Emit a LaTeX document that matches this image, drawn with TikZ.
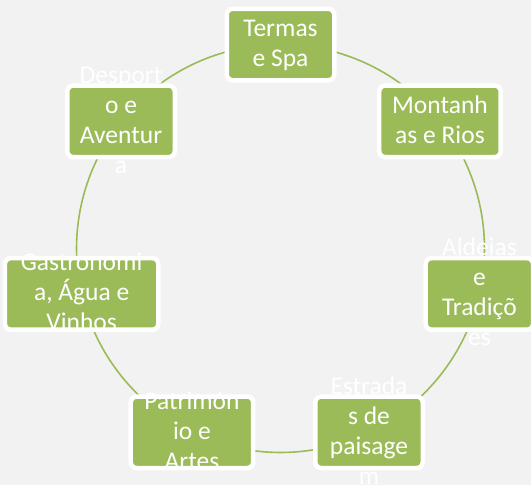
\documentclass[tikz,border=0pt]{standalone}
\usepackage{fontspec}
\setmainfont{Carlito}
\definecolor{bgc}{HTML}{F2F2F2}
\definecolor{leaf}{HTML}{9BBB59}
\newcommand\lstrut{\rule[-8pt]{0pt}{30pt}}
\tikzset{
  ring/.style={draw=leaf, line width=1.6pt},
  boxnode/.style={draw=white, fill=leaf, line width=4.5pt, rounded corners=6pt,
    minimum height=71.5pt, inner sep=0pt},
  lbl/.style={text=white, align=center, inner sep=0pt,
    font=\fontsize{25.5pt}{30pt}\selectfont}
}
\begin{document}
\begin{tikzpicture}[x=1pt,y=1pt]
\useasboundingbox (0,0) rectangle (531,-485);
\clip (0,0) rectangle (531,-485);
\fill[bgc] (0,0) rectangle (531,-485);
\begin{scope}[shift={(280.5,-248.5)}]
  \coordinate (p1) at (90:204);
  \coordinate (p2) at (38.571:204);
  \coordinate (p3) at (-12.857:204);
  \coordinate (p4) at (-64.286:204);
  \coordinate (p5) at (-115.714:204);
  \coordinate (p6) at (-167.143:204);
  \coordinate (p7) at (141.429:204);
\end{scope}
% connectors (arcs of the cycle)
\draw[ring] (p1) arc[start angle=90, end angle=38.571, radius=204];
\draw[ring] (p2) arc[start angle=38.571, end angle=-12.857, radius=204];
\draw[ring] (p3) arc[start angle=-12.857, end angle=-64.286, radius=204];
\draw[ring] (p4) arc[start angle=-64.286, end angle=-115.714, radius=204];
\draw[ring] (p5) arc[start angle=-115.714, end angle=-167.143, radius=204];
\draw[ring] (p6) arc[start angle=-167.143, end angle=-218.571, radius=204];
\draw[ring] (p7) arc[start angle=141.429, end angle=90, radius=204];
% boxes
\node[boxnode, minimum width=107.5pt] (termas) at (p1) {};
\node[boxnode, minimum width=121.5pt] (mont) at (p2) {};
\node[boxnode, minimum width=107.5pt] (ald) at (p3) {};
\node[boxnode, minimum width=107.5pt] (estr) at (p4) {};
\node[boxnode, minimum width=122.5pt] (patr) at (p5) {};
\node[boxnode, minimum width=153.5pt] (gastr) at (p6) {};
\node[boxnode, minimum width=107.5pt] (desp) at (p7) {};
% labels
\node[lbl] (ttermas) at (termas) {\lstrut Termas\\\lstrut e Spa};
\node[lbl] (tmont) at (mont) {\lstrut Montanh\\\lstrut as e Rios};
\node[lbl] (tald) at (ald) {\lstrut Aldeias\\\lstrut e\\\lstrut Tradiçõ\\\lstrut es};
\node[lbl] (testr) at (estr) {\lstrut Estrada\\\lstrut s de\\\lstrut paisage\\\lstrut m};
\node[lbl] (tpatr) at (patr) {\lstrut Patrimón\\\lstrut io e\\\lstrut Artes};
\node[lbl] (tgastr) at (gastr) {\lstrut Gastronomi\\\lstrut a, Água e\\\lstrut Vinhos};
\node[lbl] (tdesp) at (desp) {\lstrut Desport\\\lstrut o e\\\lstrut Aventur\\\lstrut a};
\end{tikzpicture}
\end{document}
